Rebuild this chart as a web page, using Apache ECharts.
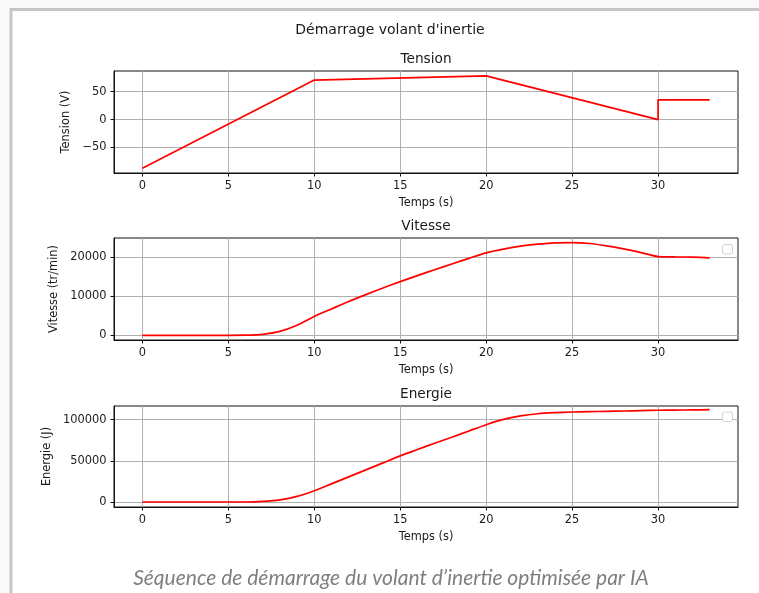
<!DOCTYPE html>
<html>
<head>
<meta charset="utf-8">
<title>Démarrage volant d'inertie</title>
<script src="https://cdn.jsdelivr.net/npm/echarts@6/dist/echarts.min.js"></script>
<style>
  html, body { margin: 0; padding: 0; background: #f9f9f9; }
  #chart { width: 759px; height: 593px; }
</style>
</head>
<body>
<div id="chart"></div>
<script>
// Tension command (V): piecewise ramps, step at t = 30 s
const tensionTime = [0, 10, 20, 30, 30, 33];
const tensionVals = [-87, 71, 78.4, 0, 35.3, 35.3];

// Sampling times (s) for speed and energy
const timeSteps = [0, 1, 2, 3, 4, 5, 6, 7, 8, 9, 10, 11, 12, 13, 14, 15, 16,
                   17, 18, 19, 20, 21, 22, 23, 24, 25, 26, 27, 28, 29, 30, 31, 32, 33];
// Flywheel speed (tr/min)
const vitesseVals = [0, 0, 0, 0, 0, 0, 30, 250, 1000, 2550, 4800, 6700, 8600, 10350,
                     12050, 13670, 15200, 16700, 18150, 19600, 21000, 21940, 22700, 23200,
                     23550, 23620, 23370, 22780, 22000, 21070, 20050, 19970, 19900, 19720];
// Stored energy (J)
const energieVals = [0, 0, 0, 0, 0, 0, 0, 700, 2600, 6800, 13700, 22000, 30500, 39000,
                     47500, 56000, 63700, 71400, 78700, 86300, 93900, 100300, 104500, 107200,
                     108500, 109300, 109700, 110100, 110500, 111000, 111400, 111600, 111900, 112100];

// Tick labels
const xTicks = [0, 5, 10, 15, 20, 25, 30];
const tensionTicks = [-50, 0, 50];
const vitesseTicks = [0, 10000, 20000];
const energieTicks = [0, 50000, 100000];

const FONT = 'DejaVu Sans';
const TXT = '#1a1a1a';

const pairs = (xs, ys) => xs.map((x, i) => [x, ys[i]]);
// Plain numbers with a typographic minus sign
const fmt = v => (v < 0 ? '\u2212' : '') + String(Math.abs(v));

const grids = [
  { left: 114, right: 21, top: 71, height: 102 },
  { left: 114, right: 21, top: 238, height: 102 },
  { left: 114, right: 21, top: 406, height: 101 }
].map(g => Object.assign(g, { show: true, borderColor: '#111', borderWidth: 1, backgroundColor: 'transparent' }));

function xAxisFor(i) {
  return {
    type: 'value', gridIndex: i, min: -1.65, max: 34.65,
    name: 'Temps (s)', nameLocation: 'middle', nameGap: 25,
    nameTextStyle: { fontFamily: FONT, fontSize: 11.4, color: TXT },
    axisLine: { show: true, onZero: false, lineStyle: { color: '#111', width: 1 } },
    axisTick: { show: true, length: 3.5, customValues: xTicks, lineStyle: { color: '#111', width: 1 } },
    axisLabel: { customValues: xTicks, formatter: fmt, margin: 7.5, fontFamily: FONT, fontSize: 11.4, color: TXT },
    splitLine: { show: true, lineStyle: { color: '#b0b0b0', width: 1 } }
  };
}

function yAxisFor(i, name, min, max, ticks, gap) {
  return {
    type: 'value', gridIndex: i, min: min, max: max,
    name: name, nameLocation: 'middle', nameGap: gap,
    nameTextStyle: { fontFamily: FONT, fontSize: 11.4, color: TXT },
    axisLine: { show: true, onZero: false, lineStyle: { color: '#111', width: 1 } },
    axisTick: { show: true, length: 3.5, customValues: ticks, lineStyle: { color: '#111', width: 1 } },
    axisLabel: { customValues: ticks, formatter: fmt, margin: 7.5, fontFamily: FONT, fontSize: 11.4, color: TXT },
    splitLine: { show: true, lineStyle: { color: '#b0b0b0', width: 1 } }
  };
}

function lineSeries(i, data) {
  return {
    type: 'line', xAxisIndex: i, yAxisIndex: i, data: data,
    showSymbol: false, symbol: 'none', smooth: 0.25,
    lineStyle: { color: '#ff0000', width: 1.7 }, z: 5
  };
}

function label(text, x, y, size) {
  return {
    type: 'text', x: x, y: y, silent: true,
    style: { text: text, fontFamily: FONT, fontSize: size, fill: TXT, align: 'center', verticalAlign: 'middle' }
  };
}

// Empty legend frames in the upper right corner of the lower two panels
function emptyLegend(y) {
  return {
    type: 'rect', shape: { x: 722.5, y: y, width: 10, height: 9.5, r: 2 },
    style: { fill: '#ffffff', stroke: '#d2d2d2', lineWidth: 1 }, z: 20, silent: true
  };
}

const chart = echarts.init(document.getElementById('chart'), null, { renderer: 'canvas' });
chart.setOption({
  backgroundColor: '#f9f9f9',
  animation: false,
  grid: grids,
  xAxis: [xAxisFor(0), xAxisFor(1), xAxisFor(2)],
  yAxis: [
    yAxisFor(0, 'Tension (V)', -95.7, 87.2, tensionTicks, 38),
    yAxisFor(1, 'Vitesse (tr/min)', -1200, 24775, vitesseTicks, 51),
    yAxisFor(2, 'Energie (J)', -6050, 116590, energieTicks, 59.5)
  ],
  series: [
    Object.assign(lineSeries(0, pairs(tensionTime, tensionVals)), { smooth: false }),
    lineSeries(1, pairs(timeSteps, vitesseVals)),
    lineSeries(2, pairs(timeSteps, energieVals))
  ],
  graphic: [
    {
      type: 'rect', z: -10, silent: true,
      shape: { x: 11, y: 9.5, width: 800, height: 650 },
      style: { fill: '#ffffff', stroke: '#c6c6c6', lineWidth: 3 }
    },
    label("Démarrage volant d'inertie", 390, 30, 14),
    label('Tension', 426, 59.5, 13.7),
    label('Vitesse', 426, 226.5, 13.7),
    label('Energie', 426, 394, 13.7),
    emptyLegend(244.5),
    emptyLegend(412),
    {
      type: 'text', x: 391, y: 578, silent: true,
      style: {
        text: 'Séquence de démarrage du volant d’inertie optimisée par IA',
        fontFamily: 'Lato', fontStyle: 'italic', fontSize: 21, fill: '#7f7f7f',
        align: 'center', verticalAlign: 'middle'
      }
    }
  ]
});
</script>
</body>
</html>
